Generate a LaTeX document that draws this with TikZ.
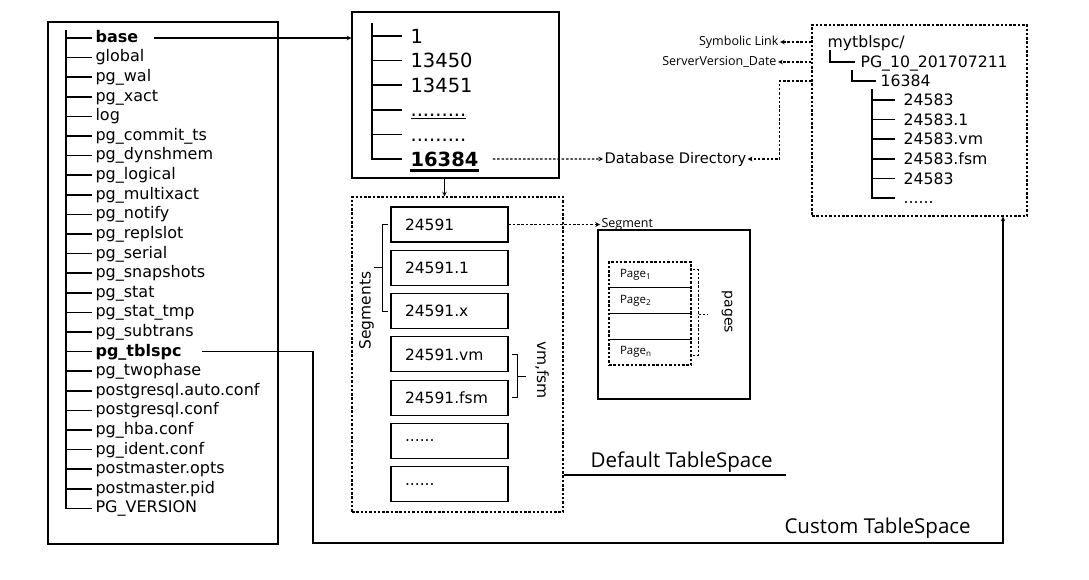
\documentclass[tikz,border=0pt]{standalone}
\usepackage{fontspec}
\setmainfont{DejaVu Sans}
\newfontfamily\labelfont{Open Sans}
\usetikzlibrary{arrows,calc,positioning}

\tikzset{
  entry/.style={anchor=west, inner sep=0pt, text height=12.8pt, text depth=4pt,
    font=\fontsize{16}{19}\selectfont},
  oid/.style={anchor=west, inner sep=0pt, text height=17pt, text depth=2.8pt,
    font=\fontsize{19.5}{23}\selectfont},
  relfile/.style={anchor=west, inner sep=0pt, text height=13.5pt, text depth=2.1pt,
    font=\fontsize{15.7}{19}\selectfont},
  segfile/.style={draw, minimum width=117pt, minimum height=35pt, text width=89pt,
    inner xsep=14pt, inner ysep=0pt, align=left, font=\fontsize{15.5}{18}\selectfont},
  pagebox/.style={draw, dotline, minimum width=82pt, minimum height=25.75pt,
    text width=60pt, inner xsep=11pt, inner ysep=0pt, align=left,
    font=\labelfont\fontsize{11.5}{13}\selectfont},
  dotline/.style={dash pattern=on 2.5pt off 1.8pt},
  smalllbl/.style={inner sep=1pt, font=\labelfont\fontsize{12.5}{15}\selectfont},
  biglbl/.style={inner sep=0pt, font=\labelfont\fontsize{20.5}{24}\selectfont},
  tree/.style={line width=1.5pt}
}

\begin{document}
\begin{tikzpicture}[%
>=stealth,
x=1pt, y=-1pt,
line width=1.1pt,
node distance=19.6pt,
on grid
]
\useasboundingbox (0,0) rectangle (1089,580);

% data directory
\node[draw, minimum width=230pt, minimum height=522pt] (pgdata) at (163,283) {};
\node[entry] (d1) at (95,38) {\textbf{base}};
\node (d2) [below=of d1.west, entry] {global};
\node (d3) [below=of d2.west, entry] {pg\_wal};
\node (d4) [below=of d3.west, entry] {pg\_xact};
\node (d5) [below=of d4.west, entry] {log};
\node (d6) [below=of d5.west, entry] {pg\_commit\_ts};
\node (d7) [below=of d6.west, entry] {pg\_dynshmem};
\node (d8) [below=of d7.west, entry] {pg\_logical};
\node (d9) [below=of d8.west, entry] {pg\_multixact};
\node (d10) [below=of d9.west, entry] {pg\_notify};
\node (d11) [below=of d10.west, entry] {pg\_replslot};
\node (d12) [below=of d11.west, entry] {pg\_serial};
\node (d13) [below=of d12.west, entry] {pg\_snapshots};
\node (d14) [below=of d13.west, entry] {pg\_stat};
\node (d15) [below=of d14.west, entry] {pg\_stat\_tmp};
\node (d16) [below=of d15.west, entry] {pg\_subtrans};
\node (d17) [below=of d16.west, entry] {\textbf{pg\_tblspc}};
\node (d18) [below=of d17.west, entry] {pg\_twophase};
\node (d19) [below=of d18.west, entry] {postgresql.auto.conf};
\node (d20) [below=of d19.west, entry] {postgresql.conf};
\node (d21) [below=of d20.west, entry] {pg\_hba.conf};
\node (d22) [below=of d21.west, entry] {pg\_ident.conf};
\node (d23) [below=of d22.west, entry] {postmaster.opts};
\node (d24) [below=of d23.west, entry] {postmaster.pid};
\node (d25) [below=of d24.west, entry] {PG\_VERSION};

\coordinate (r1) at (66,30);
\draw[tree] (r1) |- ([xshift=-3pt]d25.west)
  (r1 |- d1.west) -- ([xshift=-3pt]d1.west)   (r1 |- d2.west) -- ([xshift=-3pt]d2.west)
  (r1 |- d3.west) -- ([xshift=-3pt]d3.west)   (r1 |- d4.west) -- ([xshift=-3pt]d4.west)
  (r1 |- d5.west) -- ([xshift=-3pt]d5.west)   (r1 |- d6.west) -- ([xshift=-3pt]d6.west)
  (r1 |- d7.west) -- ([xshift=-3pt]d7.west)   (r1 |- d8.west) -- ([xshift=-3pt]d8.west)
  (r1 |- d9.west) -- ([xshift=-3pt]d9.west)   (r1 |- d10.west) -- ([xshift=-3pt]d10.west)
  (r1 |- d11.west) -- ([xshift=-3pt]d11.west) (r1 |- d12.west) -- ([xshift=-3pt]d12.west)
  (r1 |- d13.west) -- ([xshift=-3pt]d13.west) (r1 |- d14.west) -- ([xshift=-3pt]d14.west)
  (r1 |- d15.west) -- ([xshift=-3pt]d15.west) (r1 |- d16.west) -- ([xshift=-3pt]d16.west)
  (r1 |- d17.west) -- ([xshift=-3pt]d17.west) (r1 |- d18.west) -- ([xshift=-3pt]d18.west)
  (r1 |- d19.west) -- ([xshift=-3pt]d19.west) (r1 |- d20.west) -- ([xshift=-3pt]d20.west)
  (r1 |- d21.west) -- ([xshift=-3pt]d21.west) (r1 |- d22.west) -- ([xshift=-3pt]d22.west)
  (r1 |- d23.west) -- ([xshift=-3pt]d23.west) (r1 |- d24.west) -- ([xshift=-3pt]d24.west);

% base directory
\node[draw, minimum width=207pt, minimum height=166pt] (basedir) at (455.5,95) {};
\node[oid] (o1) at (410,36) {1};
\node (o2) [below=24.6pt of o1.west, oid] {13450};
\node (o3) [below=24.6pt of o2.west, oid] {13451};
\node (o4) [below=24.6pt of o3.west, oid] {\underline{.........}};
\node (o5) [below=24.6pt of o4.west, oid] {.........};
\node (o6) [below=24.6pt of o5.west, oid] {\textbf{16384}};
\draw[line width=3pt] ([yshift=-1.5pt]o6.south west) -- ([yshift=-1.5pt]o6.south east);

\coordinate (r2) at (372,23);
\draw[tree] (r2) |- ([xshift=-8pt]o6.west)
  (r2 |- o1.west) -- ([xshift=-8pt]o1.west) (r2 |- o2.west) -- ([xshift=-8pt]o2.west)
  (r2 |- o3.west) -- ([xshift=-8pt]o3.west) (r2 |- o4.west) -- ([xshift=-8pt]o4.west)
  (r2 |- o5.west) -- ([xshift=-8pt]o5.west);

\node[inner sep=1pt, anchor=west, font=\fontsize{14.6}{17}\selectfont] (dbdir) at (603,159) {Database Directory};

% relation files
\node[draw, dotline, minimum width=211pt, minimum height=315pt] (segbox) at (457.5,354.5) {};
\node[segfile] (s1) at (449.5,224.5) {24591};
\node (s2) [below=43.3pt of s1, segfile] {24591.1};
\node (s3) [below=43.3pt of s2, segfile] {24591.x};
\node (s4) [below=43.3pt of s3, segfile] {24591.vm};
\node (s5) [below=43.3pt of s4, segfile] {24591.fsm};
\node (s6) [below=43.3pt of s5, segfile] {......};
\node (s7) [below=43.3pt of s6, segfile] {......};

\draw ([xshift=-2pt]s1.west) -- ++(-6,0) |- ([xshift=-2pt]s3.west);
\draw ([xshift=-8pt]s2.west) -- ++(-8,0);
\node[rotate=90, font=\fontsize{15.5}{18}\selectfont] (seglbl) [left=24pt of s2.west] {Segments};

\draw ([xshift=3pt]s4.east) -- ++(6,0) |- ([xshift=3pt]s5.east);
\draw ([xshift=9pt]$(s4.east)!0.5!(s5.east)$) -- ++(8,0);
\node[rotate=-90, font=\fontsize{15.5}{18}\selectfont] (vmlbl) at (542,370) {vm,fsm};

% one segment
\node[smalllbl, anchor=west] (seglabel) at (600,224.5) {Segment};
\node[draw, minimum width=152pt, minimum height=169pt] (segment) at (674,314.5) {};
\node[pagebox] (p1) at (650,274.9) {Page\textsubscript{1}};
\node (p2) [below=25.75pt of p1, pagebox] {Page\textsubscript{2}};
\node (p3) [below=25.75pt of p2, pagebox] {};
\node (p4) [below=25.75pt of p3, pagebox] {Page\textsubscript{n}};
\draw[dotline] ([shift={(1pt,5pt)}]p1.east) -- ++(6,0) |- ([shift={(1pt,-3pt)}]p4.east);
\draw[dotline] ([xshift=7pt]p2.south east) -- ++(9,0);
\node[rotate=-90, font=\fontsize{14}{16}\selectfont] (pglbl) at (727,312) {pages};

% custom tablespace
\node[draw, dotline, minimum width=215pt, minimum height=191pt] (mytbl) at (919.5,120.5) {};
\node[relfile] (m0) at (827,42) {mytblspc/};
\node[relfile] (m1) at (860,62) {PG\_10\_201707211};
\node[relfile] (m2) at (880,81) {16384};
\node[relfile] (c1) at (903,100) {24583};
\node (c2) [below=of c1.west, relfile] {24583.1};
\node (c3) [below=of c2.west, relfile] {24583.vm};
\node (c4) [below=of c3.west, relfile] {24583.fsm};
\node (c5) [below=of c4.west, relfile] {24583};
\node (c6) [below=of c5.west, relfile] {......};

\draw[tree] ([xshift=3pt]m0.south west) |- ([xshift=-5pt]m1.west);
\draw[tree] ([xshift=-8pt]m1.south west) |- ([xshift=-4pt]m2.west);
\coordinate (r3) at ([xshift=-8pt]m2.south west);
\draw[tree] (r3) |- ([xshift=-8pt]c6.west)
  (r3 |- c1.west) -- ([xshift=-8pt]c1.west) (r3 |- c2.west) -- ([xshift=-8pt]c2.west)
  (r3 |- c3.west) -- ([xshift=-8pt]c3.west) (r3 |- c4.west) -- ([xshift=-8pt]c4.west)
  (r3 |- c5.west) -- ([xshift=-8pt]c5.west);

\node[smalllbl, anchor=east] (symlink) at (780,42) {Symbolic Link};
\node[smalllbl, anchor=east] (srvver) at (778,62) {ServerVersion\_Date};

% tablespace labels
\node[biglbl, anchor=base west] (deflbl) at (590,467) {Default TableSpace};
\node[biglbl, anchor=base west] (custlbl) at (784,533) {Custom TableSpace};
\coordinate (defend) at (786,475);
\coordinate (cturn) at (313,543);
\coordinate (cend) at (1003,543);

% solid: directory links
\draw[->] ([xshift=15pt]d1.east) -- (d1.east -| basedir.west);
\draw[->] (o6 |- basedir.south) -- (o6 |- segbox.north);
\draw (segbox.east |- defend) -- (defend);
\draw[->] ([xshift=20pt]d17.east) -| (cturn) -- (cend) -- (cend |- mytbl.south);

% dashed: annotations
\draw[dotline,->] ([xshift=14pt]o6.east) -- (dbdir.west);
\draw[dotline,->] (s1.east) -- (seglabel.west);
\draw[dotline,->] (mytbl.west |- m0.west) -- (symlink.east);
\draw[dotline,->] (mytbl.west |- m1.west) -- (srvver.east);
\draw[dotline,->] (mytbl.west |- m2.west) -| ([xshift=32pt]dbdir.east) -- (dbdir.east);
\end{tikzpicture}
\end{document}
